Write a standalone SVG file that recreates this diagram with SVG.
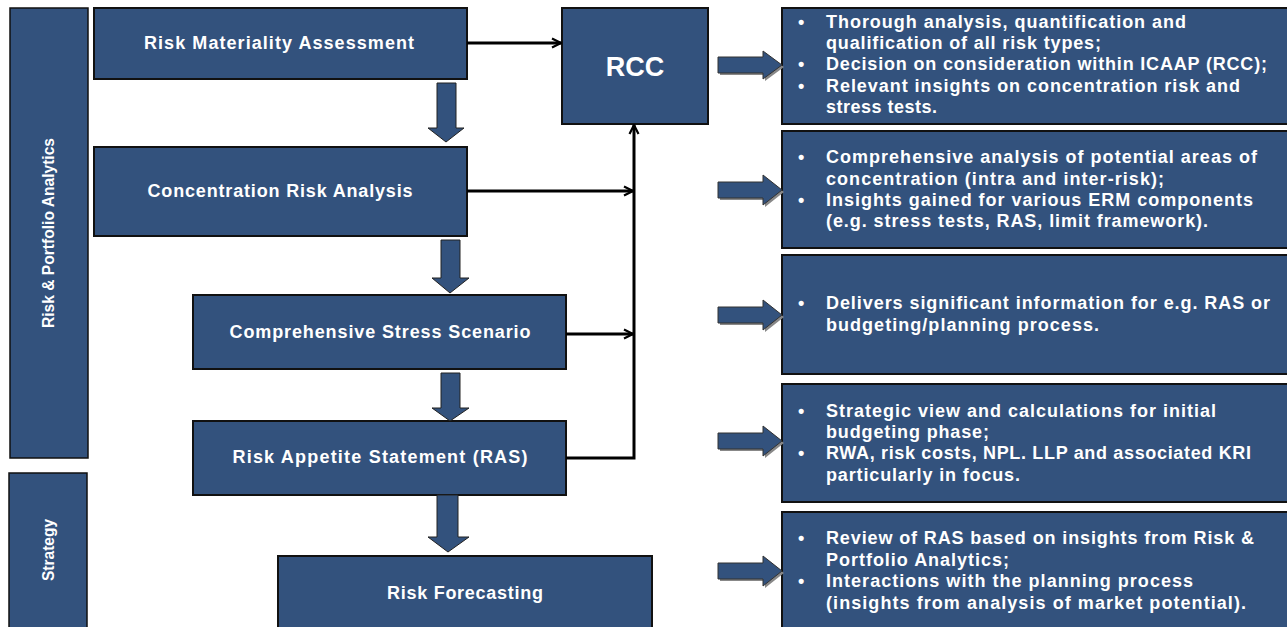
<svg xmlns="http://www.w3.org/2000/svg" width="1287" height="627" viewBox="0 0 1287 627">
<defs>
<style>
.box{fill:#33527d;stroke:#111;stroke-width:2}
.band{fill:#33527d;stroke:#111;stroke-width:1.5}
.t{font-family:"Liberation Sans",Arial,sans-serif;font-weight:bold;fill:#fff;font-size:18px}
.c{text-anchor:middle}
.v{font-size:16px}
.big{font-size:27px}
.b{font-family:"Liberation Sans",Arial,sans-serif;font-weight:bold;fill:#fff;font-size:18px}
.ln{fill:none;stroke:#000;stroke-width:3}
.da{fill:#33527d;stroke:#222;stroke-width:1}
.ba{fill:#33527d;stroke:#333;stroke-width:1}
.sh{fill:#888}
</style>
<marker id="open" viewBox="0 0 12 12" refX="11" refY="6" markerWidth="12" markerHeight="12" markerUnits="userSpaceOnUse" orient="auto">
<polyline points="2,1.5 11,6 2,10.5" fill="none" stroke="#000" stroke-width="2.2"/>
</marker>
</defs>

<g id="band-rpa">
<rect class="band" x="10" y="8" width="78" height="450"/>
<text class="t c v" transform="translate(54,233) rotate(-90)" textLength="190" lengthAdjust="spacingAndGlyphs">Risk &amp; Portfolio Analytics</text>
</g>
<g id="band-strategy">
<rect class="band" x="9" y="473" width="78" height="160"/>
<text class="t c v" transform="translate(54,550) rotate(-90)" textLength="62" lengthAdjust="spacingAndGlyphs">Strategy</text>
</g>

<g id="n-rma">
<rect class="box" x="94" y="8" width="373" height="71"/>
<text class="t c" x="279" y="49" textLength="270">Risk Materiality Assessment</text>
</g>
<g id="n-cra">
<rect class="box" x="94" y="147" width="373" height="89"/>
<text class="t c" x="280" y="197" textLength="265">Concentration Risk Analysis</text>
</g>
<g id="n-css">
<rect class="box" x="193" y="295" width="373" height="74"/>
<text class="t c" x="380" y="338" textLength="301">Comprehensive Stress Scenario</text>
</g>
<g id="n-ras">
<rect class="box" x="193" y="421" width="373" height="74"/>
<text class="t c" x="380" y="463" textLength="295">Risk Appetite Statement (RAS)</text>
</g>
<g id="n-rf">
<rect class="box" x="278" y="556" width="374" height="80"/>
<text class="t c" x="465" y="599" textLength="156">Risk Forecasting</text>
</g>
<g id="n-rcc">
<rect class="box" x="562" y="8" width="146" height="116"/>
<text class="t c big" x="635" y="76">RCC</text>
</g>

<g id="d1">
<rect class="box" x="782" y="8" width="510" height="116"/>
<text class="b" x="798" y="28">•</text><text class="b" x="826" y="28" textLength="360">Thorough analysis, quantification and</text>
<text class="b" x="826" y="49" textLength="275">qualification of all risk types;</text>
<text class="b" x="798" y="70">•</text><text class="b" x="826" y="70" textLength="441">Decision on consideration within ICAAP (RCC);</text>
<text class="b" x="798" y="92">•</text><text class="b" x="826" y="92" textLength="414">Relevant insights on concentration risk and</text>
<text class="b" x="826" y="113" textLength="111">stress tests.</text>
</g>
<g id="d2">
<rect class="box" x="782" y="131" width="510" height="117"/>
<text class="b" x="798" y="163">•</text><text class="b" x="826" y="163" textLength="431">Comprehensive analysis of potential areas of</text>
<text class="b" x="826" y="185" textLength="338">concentration (intra and inter-risk);</text>
<text class="b" x="798" y="206">•</text><text class="b" x="826" y="206" textLength="427">Insights gained for various ERM components</text>
<text class="b" x="826" y="227" textLength="382">(e.g. stress tests, RAS, limit framework).</text>
</g>
<g id="d3">
<rect class="box" x="782" y="255" width="510" height="119"/>
<text class="b" x="798" y="309">•</text><text class="b" x="826" y="309" textLength="444">Delivers significant information for e.g. RAS or</text>
<text class="b" x="826" y="331" textLength="273">budgeting/planning process.</text>
</g>
<g id="d4">
<rect class="box" x="782" y="384" width="510" height="118"/>
<text class="b" x="798" y="417">•</text><text class="b" x="826" y="417" textLength="390">Strategic view and calculations for initial</text>
<text class="b" x="826" y="438" textLength="163">budgeting phase;</text>
<text class="b" x="798" y="459">•</text><text class="b" x="826" y="459" textLength="425">RWA, risk costs, NPL. LLP and associated KRI</text>
<text class="b" x="826" y="481" textLength="194">particularly in focus.</text>
</g>
<g id="d5">
<rect class="box" x="782" y="512" width="510" height="125"/>
<text class="b" x="798" y="544">•</text><text class="b" x="826" y="544" textLength="428">Review of RAS based on insights from Risk &amp;</text>
<text class="b" x="826" y="566" textLength="183">Portfolio Analytics;</text>
<text class="b" x="798" y="587">•</text><text class="b" x="826" y="587" textLength="367">Interactions with the planning process</text>
<text class="b" x="826" y="609" textLength="420">(insights from analysis of market potential).</text>
</g>

<g id="connectors">
<path class="da" d="M437,83 H456 V128 H464 L446,142 L428,128 H437 Z"/>
<path class="da" d="M441,240 H460 V278 H469 L450,293 L432,278 H441 Z"/>
<path class="da" d="M441,373 H460 V408 H469 L450,421 L432,408 H441 Z"/>
<path class="da" d="M437,495 H458 V537 H469 L448,552 L428,537 H437 Z"/>

<line class="ln" x1="467" y1="43" x2="561" y2="43" stroke-width="2.5" marker-end="url(#open)"/>
<line class="ln" x1="467" y1="191" x2="633" y2="191" marker-end="url(#open)"/>
<line class="ln" x1="566" y1="334" x2="633" y2="334" marker-end="url(#open)"/>
<polyline class="ln" points="566,458 634,458 634,125" marker-end="url(#open)"/>

<g id="block-arrows">
<path class="sh" transform="translate(2,2)" d="M718,57 H763 V51 L782,65 L763,79 V73 H718 Z"/>
<path class="ba" d="M718,57 H763 V51 L782,65 L763,79 V73 H718 Z"/>
<path class="sh" transform="translate(2,2)" d="M718,182 H763 V175 L782,190 L763,205 V198 H718 Z"/>
<path class="ba" d="M718,182 H763 V175 L782,190 L763,205 V198 H718 Z"/>
<path class="sh" transform="translate(2,2)" d="M718,307 H763 V300 L782,315 L763,330 V323 H718 Z"/>
<path class="ba" d="M718,307 H763 V300 L782,315 L763,330 V323 H718 Z"/>
<path class="sh" transform="translate(2,2)" d="M718,433 H763 V426 L782,441 L763,456 V449 H718 Z"/>
<path class="ba" d="M718,433 H763 V426 L782,441 L763,456 V449 H718 Z"/>
<path class="sh" transform="translate(2,2)" d="M718,563 H763 V556 L782,571 L763,586 V579 H718 Z"/>
<path class="ba" d="M718,563 H763 V556 L782,571 L763,586 V579 H718 Z"/>
</g>
</g>
</svg>
